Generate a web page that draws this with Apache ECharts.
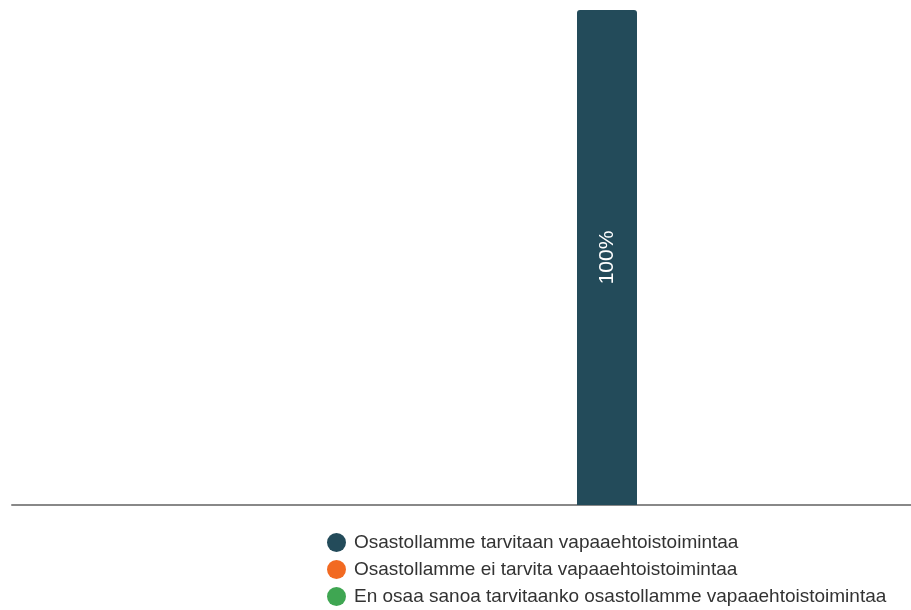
<!DOCTYPE html>
<html>
<head>
<meta charset="utf-8">
<script src="https://cdn.jsdelivr.net/npm/echarts@6/dist/echarts.min.js"></script>
<style>
html,body{margin:0;padding:0;background:#fff;}
#chart{width:911px;height:610px;}
</style>
</head>
<body>
<div id="chart"></div>
<script>
const categories = ['Osasto'];
const seriesNames = [
  'Osastollamme tarvitaan vapaaehtoistoimintaa',
  'Osastollamme ei tarvita vapaaehtoistoimintaa',
  'En osaa sanoa tarvitaanko osastollamme vapaaehtoistoimintaa'
];
const valuesTarvitaan = [100];
const valuesEiTarvita = [0];
const valuesEnOsaa = [0];
const colors = ['#234b5a', '#f26a22', '#3fa652'];

const chart = echarts.init(document.getElementById('chart'));
const allValues = [valuesTarvitaan, valuesEiTarvita, valuesEnOsaa];
chart.setOption({
  animation: false,
  color: colors,
  grid: [
    { left: 12, right: 0, top: 10, bottom: 105, containLabel: false },
    { left: 303, right: 0, top: 10, bottom: 105, containLabel: false }
  ],
  xAxis: [
    {
      type: 'category',
      gridIndex: 0,
      data: [''],
      axisLine: { show: true, lineStyle: { color: '#888888', width: 2 } },
      axisTick: { show: false },
      axisLabel: { show: false },
      splitLine: { show: false }
    },
    {
      type: 'category',
      gridIndex: 1,
      data: categories,
      axisLine: { show: false },
      axisTick: { show: false },
      axisLabel: { show: false },
      splitLine: { show: false }
    }
  ],
  yAxis: [
    { type: 'value', gridIndex: 0, min: 0, max: 100, show: false, splitLine: { show: false } },
    { type: 'value', gridIndex: 1, min: 0, max: 100, show: false, splitLine: { show: false } }
  ],
  legend: {
    orient: 'vertical',
    left: 327,
    top: 533,
    height: 100,
    padding: 0,
    icon: 'circle',
    itemWidth: 19,
    itemHeight: 19,
    itemGap: 8,
    textStyle: { fontFamily: 'Liberation Sans, Arial, sans-serif', fontSize: 19, color: '#333333', padding: [0, 0, 0, 3] },
    data: seriesNames
  },
  series: seriesNames.map((name, i) => ({
    name: name,
    type: 'bar',
    stack: 'total',
    xAxisIndex: 1,
    yAxisIndex: 1,
    barWidth: 60,
    data: allValues[i],
    itemStyle: { borderRadius: [3, 3, 0, 0] },
    label: {
      show: true,
      position: 'inside',
      rotate: 90,
      color: '#ffffff',
      fontFamily: 'Liberation Sans, Arial, sans-serif',
      fontSize: 21,
      formatter: p => (p.value > 0 ? p.value + '%' : '')
    }
  }))
});
</script>
</body>
</html>
